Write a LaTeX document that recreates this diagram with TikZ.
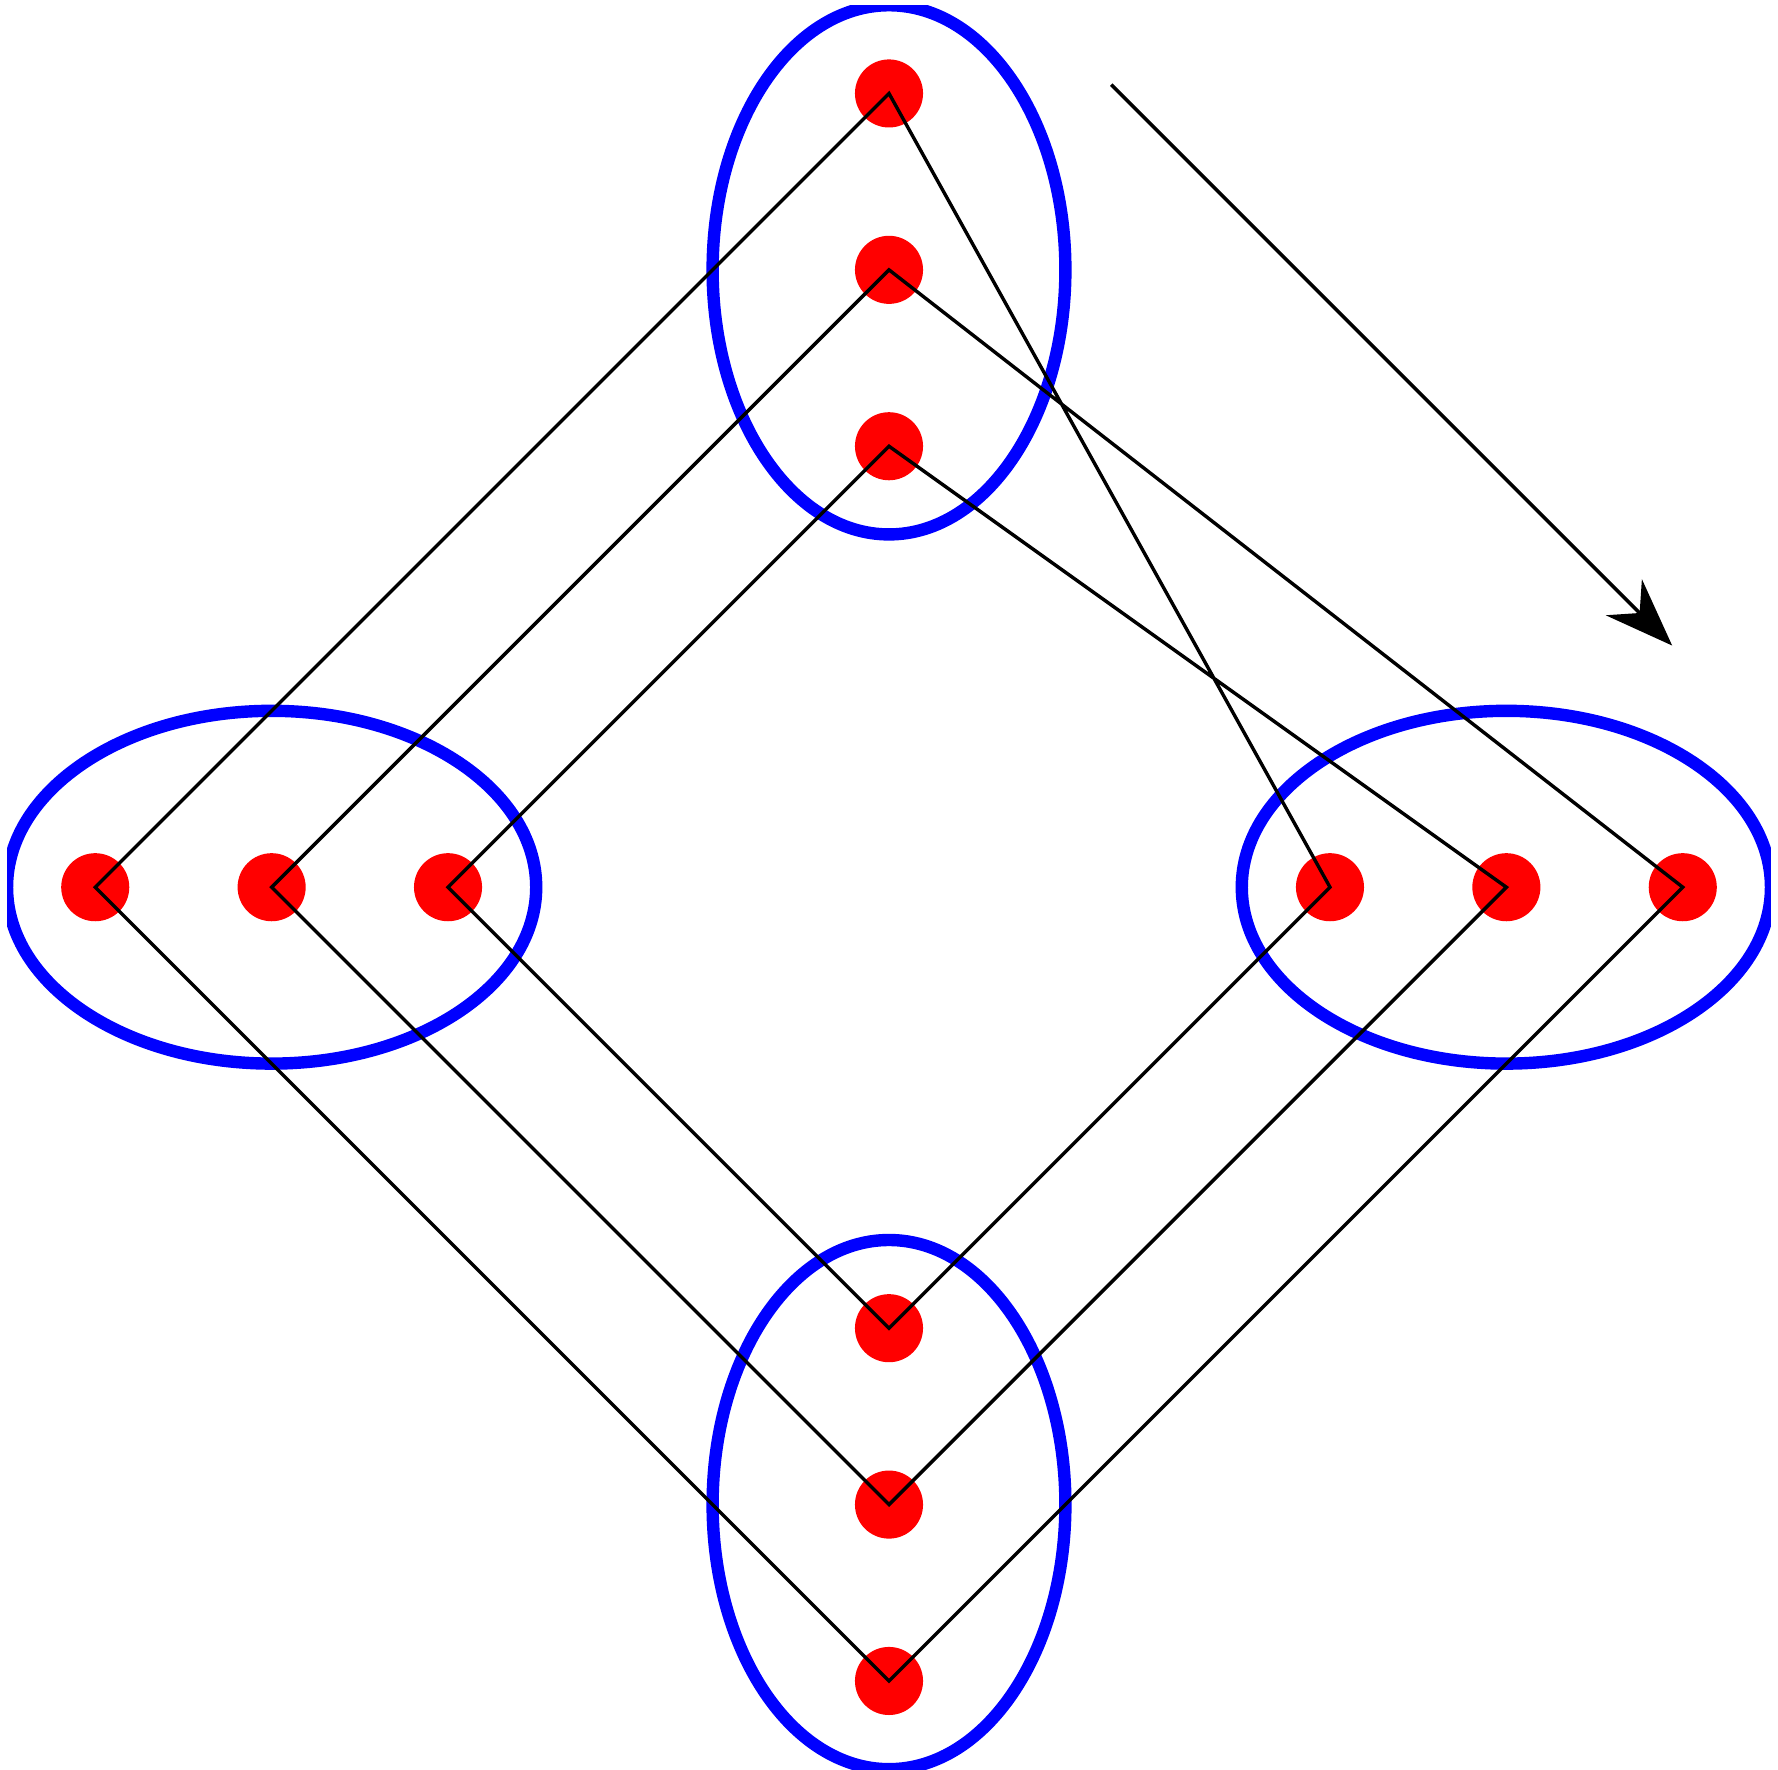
\documentclass[tikz,border=0pt]{standalone}
\usepackage{tikz}
\usetikzlibrary{positioning,arrows.meta}

\begin{document}
\begin{tikzpicture}[
  scale=1.0,
  dot/.style={circle, fill=red, minimum size=3.86mm, inner sep=0pt},
  group/.style={draw=blue, line width=2pt},
  link/.style={line width=0.55pt, line join=miter},
  >={Stealth[length=11pt, width=8.2pt]}
]
  \useasboundingbox (-5.04,-5.0) rectangle (5.04,5.03);
  \clip (-5,-5) rectangle (5,5);

  % Groups
  \draw[group] (0,3.5) ellipse (1 and 1.5);
  \draw[group] (-3.5,0) ellipse (1.5 and 1);
  \draw[group] (3.5,0) ellipse (1.5 and 1);
  \draw[group] (0,-3.5) ellipse (1 and 1.5);

  % Elements
  \node[dot] (t1) at (0,4.5) {};
  \node[dot] (t2) at (0,3.5) {};
  \node[dot] (t3) at (0,2.5) {};
  \node[dot] (l1) at (-4.5,0) {};
  \node[dot] (l2) at (-3.5,0) {};
  \node[dot] (l3) at (-2.5,0) {};
  \node[dot] (r1) at (2.5,0) {};
  \node[dot] (r2) at (3.5,0) {};
  \node[dot] (r3) at (4.5,0) {};
  \node[dot] (b1) at (0,-2.5) {};
  \node[dot] (b2) at (0,-3.5) {};
  \node[dot] (b3) at (0,-4.5) {};

  % Paths through the groups
  \draw[link] (l1.center) -- (t1.center) -- (r1.center) -- (b1.center) -- (l3.center) -- (t3.center) -- (r2.center) -- (b2.center) -- (l2.center) -- (t2.center) -- (r3.center) -- (b3.center) -- cycle;

  % Direction
  \coordinate (from) at (1.26,4.55);
  \coordinate (to) at (4.44,1.37);
  \draw[->, link] (from) -- (to);
\end{tikzpicture}
\end{document}
